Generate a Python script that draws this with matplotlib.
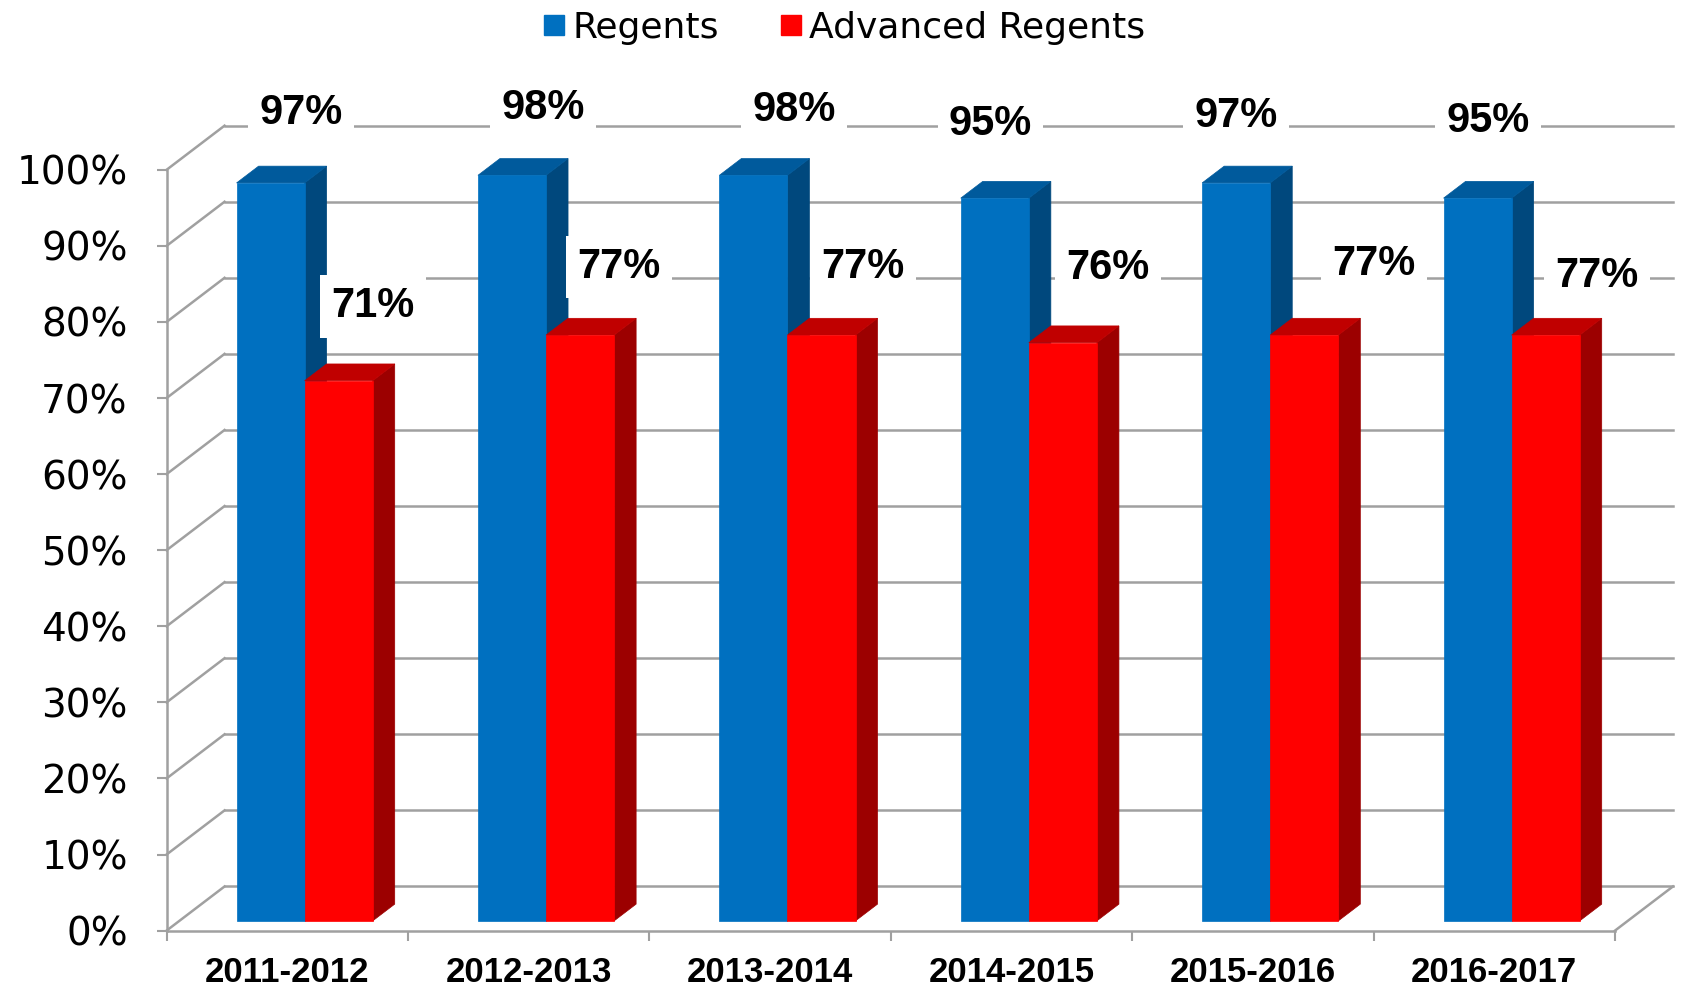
import matplotlib.pyplot as plt
from matplotlib.patches import Polygon
from matplotlib.lines import Line2D

# data
years = ["2011-2012", "2012-2013", "2013-2014", "2014-2015", "2015-2016", "2016-2017"]
regents = [97, 98, 98, 95, 97, 95]
advanced = [71, 77, 77, 76, 77, 77]
series_names = ["Regents", "Advanced Regents"]

# colours: front, side, top
blue = ("#0070C0", "#00487D", "#005A9C")
red = ("#FF0000", "#9C0000", "#C00000")
grid_col = "#A0A0A0"

# 3d look: offset of the back wall in data units
DX, DY = 0.24, 5.8
z0, z1 = 0.22, 0.60      # bar depth (fraction of the wall depth)
a, w = 0.237, 0.282      # bar start and width inside a category

# small label nudges (pixels in the shown picture) so labels sit like the original
reg_nudge = [(10, -1), (11, 1), (20, 3), (-22, -5), (-18, 1), (-8, -8)]
adv_nudge = [(-8, -4), (-4, 2), (-1, 2), (2, -4), (25, -1), (8, 10)]

fig = plt.figure(figsize=(16.85, 9.9), dpi=100)
ax = fig.add_axes([166.6 / 1685, 59.4 / 990, 1448.4 / 1685, 760.8 / 990])
n = len(years)
ax.set_xlim(0, n)
ax.set_ylim(0, 100)

for s in ["top", "right"]:
    ax.spines[s].set_visible(False)
for s in ["left", "bottom"]:
    ax.spines[s].set_color(grid_col)
    ax.spines[s].set_linewidth(1.8)

ax.set_yticks(range(0, 101, 10))
ax.set_yticklabels([f"{v}%" for v in range(0, 101, 10)])
ax.tick_params(axis="y", length=7, width=1.5, color=grid_col, pad=21,
               labelsize=28)
ax.set_xticks(range(0, n + 1))
ax.set_xticklabels([])
ax.tick_params(axis="x", length=7, width=1.5, color=grid_col)
ax.patch.set_visible(False)

# back wall gridlines and side wall diagonals
for v in range(0, 101, 10):
    ax.plot([DX, n + DX], [v + DY, v + DY], color=grid_col, lw=1.8,
            clip_on=False, zorder=1)
    ax.plot([0, DX], [v, v + DY], color=grid_col, lw=1.8,
            clip_on=False, zorder=1)
ax.plot([n, n + DX], [0, DY], color=grid_col, lw=1.8, clip_on=False, zorder=1)


def bar3d(xl, v, cols):
    xr = xl + w
    front = [(xl + z0 * DX, z0 * DY), (xr + z0 * DX, z0 * DY),
             (xr + z0 * DX, v + z0 * DY), (xl + z0 * DX, v + z0 * DY)]
    side = [(xr + z0 * DX, z0 * DY), (xr + z1 * DX, z1 * DY),
            (xr + z1 * DX, v + z1 * DY), (xr + z0 * DX, v + z0 * DY)]
    top = [(xl + z0 * DX, v + z0 * DY), (xr + z0 * DX, v + z0 * DY),
           (xr + z1 * DX, v + z1 * DY), (xl + z1 * DX, v + z1 * DY)]
    for pts, c in zip([side, top, front], [cols[1], cols[2], cols[0]]):
        ax.add_patch(Polygon(pts, closed=True, facecolor=c, edgecolor=c,
                             lw=0.5, clip_on=False, zorder=3))


lab_font = dict(family="Liberation Sans", weight="bold", size=30)
box = dict(facecolor="white", edgecolor="none", pad=8)
px_x, px_y = 225.0, 7.08   # shown pixels per category / per percent
for i in range(n):
    bar3d(i + a, regents[i], blue)
    bar3d(i + a + w, advanced[i], red)
    nx, ny = reg_nudge[i]
    ax.text(i + a + w / 2 + z0 * DX + 0.08 + nx / px_x,
            regents[i] + z0 * DY + 9.0 - ny / px_y,
            f"{regents[i]}%", ha="center", va="center", zorder=6,
            bbox=box, **lab_font)
    nx, ny = adv_nudge[i]
    ax.text(i + a + 1.5 * w + z0 * DX + 0.178 + nx / px_x,
            advanced[i] + z0 * DY + 9.2 - ny / px_y,
            f"{advanced[i]}%", ha="center", va="center", zorder=6,
            bbox=box, **lab_font)
    ax.text(i + 0.5, -5.5, years[i], ha="center", va="center",
            family="Liberation Sans", weight="bold", size=25, clip_on=False)

handles = [Line2D([], [], marker="s", ls="none", markersize=15,
                  markerfacecolor=blue[0], markeredgecolor=blue[0]),
           Line2D([], [], marker="s", ls="none", markersize=15,
                  markerfacecolor=red[0], markeredgecolor=red[0])]
fig.legend(handles, series_names, loc="center", bbox_to_anchor=(0.5, 0.972),
           ncol=2, frameon=False, fontsize=26, handletextpad=0.1,
           columnspacing=1.6, handlelength=0.8)

fig.savefig("out.png", dpi=100)
